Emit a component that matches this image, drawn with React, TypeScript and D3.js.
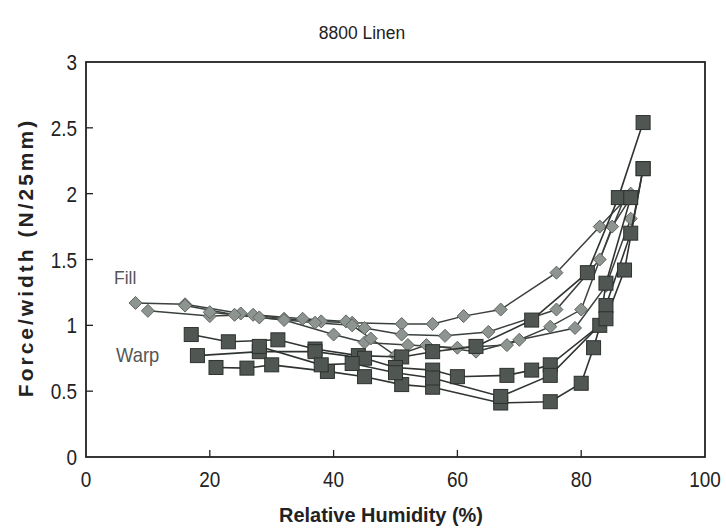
import React from "react";
import * as d3 from "d3";

type Pt = [number, number];

const title = "8800 Linen";
const xTicks = [0, 20, 40, 60, 80, 100];
const yTicks = [0, 0.5, 1, 1.5, 2, 2.5, 3];
const xLabel = "Relative Humidity (%)";
const yLabel = "Force/width (N/25mm)";

const fillSeries: Pt[][] = [
  [[8, 1.17], [16, 1.16], [25, 1.09], [32, 1.05], [38, 1.03], [43, 1.02], [51, 1.01], [56, 1.01], [61, 1.07], [67, 1.12], [76, 1.4], [83, 1.75], [88, 2.0]],
  [[10, 1.11], [20, 1.07], [27, 1.08], [35, 1.05], [42, 1.03], [45, 0.98], [51, 0.93], [58, 0.92], [65, 0.95], [76, 1.12], [83, 1.5], [87, 1.97]],
  [[16, 1.15], [24, 1.08], [32, 1.04], [40, 0.93], [45, 0.87], [52, 0.85], [60, 0.83], [68, 0.85], [75, 0.99], [80, 1.12], [85, 1.75], [88, 1.97]],
  [[20, 1.1], [28, 1.06], [37, 1.02], [43, 1.0], [46, 0.9], [50, 0.77], [55, 0.85], [63, 0.8], [70, 0.89], [79, 0.98], [84, 1.3], [88, 1.81]],
];

const warpSeries: Pt[][] = [
  [[17, 0.93], [23, 0.875], [31, 0.89], [37, 0.82], [44, 0.77], [51, 0.76], [56, 0.8], [63, 0.84], [72, 1.04], [81, 1.4], [86, 1.97], [90, 2.54]],
  [[18, 0.77], [28, 0.8], [37, 0.8], [45, 0.75], [50, 0.68], [56, 0.66], [60, 0.61], [68, 0.62], [72, 0.66], [75, 0.7], [83, 1.0], [84, 1.32], [88, 1.97]],
  [[21, 0.68], [26, 0.675], [30, 0.7], [39, 0.65], [45, 0.61], [51, 0.55], [56, 0.53], [67, 0.41], [75, 0.42], [80, 0.56], [82, 0.83], [84, 1.15], [88, 1.7], [90, 2.19]],
  [[28, 0.84], [38, 0.7], [43, 0.71], [50, 0.64], [56, 0.6], [67, 0.46], [75, 0.62], [84, 1.05], [87, 1.42], [90, 2.19]],
];

const W = 726;
const H = 530;
const M = { left: 86, right: 21, top: 62, bottom: 73 };

export default function App() {
  const x = d3.scaleLinear().domain([0, 100]).range([M.left, W - M.right]);
  const y = d3.scaleLinear().domain([0, 3]).range([H - M.bottom, M.top]);
  const line = d3
    .line<Pt>()
    .x((d) => x(d[0]))
    .y((d) => y(d[1]));
  const font = "'Liberation Sans', Arial, sans-serif";
  const sq = 14;
  const dm = 6.5;
  const sx = 0.86;

  return (
    <svg
      width={W}
      height={H}
      style={{ position: "absolute", left: 0, top: 0, background: "#fff" }}
      fontFamily={font}
    >
      <rect width={W} height={H} fill="#fff" />
      <text
        transform={`translate(362,39) scale(0.92,1)`}
        textAnchor="middle"
        fontSize={19}
        fill="#222"
      >
        {title}
      </text>
      {/* frame */}
      <rect
        x={x(0)}
        y={y(3)}
        width={x(100) - x(0)}
        height={y(0) - y(3)}
        fill="none"
        stroke="#222"
        strokeWidth={1.8}
      />
      {xTicks.slice(1, -1).map((t) => (
        <line key={"xt" + t} x1={x(t)} x2={x(t)} y1={y(0)} y2={y(0) - 7} stroke="#222" strokeWidth={1.3} />
      ))}
      {yTicks.slice(1, -1).map((t) => (
        <line key={"yt" + t} x1={x(0)} x2={x(0) + 7} y1={y(t)} y2={y(t)} stroke="#222" strokeWidth={1.3} />
      ))}
      {xTicks.map((t) => (
        <text
          key={"xl" + t}
          transform={`translate(${x(t)},${y(0) + 30}) scale(${sx},1)`}
          textAnchor="middle"
          fontSize={22}
          fill="#222"
        >
          {t}
        </text>
      ))}
      {yTicks.map((t) => (
        <text
          key={"yl" + t}
          transform={`translate(${x(0) - 9},${y(t) + 8}) scale(${sx},1)`}
          textAnchor="end"
          fontSize={22}
          fill="#222"
        >
          {t}
        </text>
      ))}
      <text
        transform={`translate(381,522) scale(0.95,1)`}
        textAnchor="middle"
        fontSize={21}
        fontWeight="bold"
        fill="#222"
      >
        {xLabel}
      </text>
      <text
        transform={`translate(33,${(y(0) + y(3)) / 2 - 2}) rotate(-90)`}
        textAnchor="middle"
        fontSize={21}
        fontWeight="bold"
        letterSpacing={3}
        fill="#222"
      >
        {yLabel}
      </text>
      <text transform="translate(114,284) scale(0.92,1)" fontSize={19} fill="#555">Fill</text>
      <text transform="translate(116,362) scale(0.92,1)" fontSize={20} fill="#555">Warp</text>

      {fillSeries.map((s, i) => (
        <path key={"fl" + i} d={line(s) || ""} fill="none" stroke="#3b413e" strokeWidth={1.5} />
      ))}
      {fillSeries.map((s, i) =>
        s.map((d, j) => (
          <path
            key={`fd${i}-${j}`}
            d={`M${x(d[0])},${y(d[1]) - dm}L${x(d[0]) + dm},${y(d[1])}L${x(d[0])},${y(d[1]) + dm}L${x(d[0]) - dm},${y(d[1])}Z`}
            fill="#8e9590"
            stroke="#5e6561"
            strokeWidth={1}
          />
        ))
      )}
      {warpSeries.map((s, i) => (
        <path key={"wl" + i} d={line(s) || ""} fill="none" stroke="#2f3431" strokeWidth={1.6} />
      ))}
      {warpSeries.map((s, i) =>
        s.map((d, j) => (
          <rect
            key={`ws${i}-${j}`}
            x={x(d[0]) - sq / 2}
            y={y(d[1]) - sq / 2}
            width={sq}
            height={sq}
            fill="#505753"
            stroke="#2c312e"
            strokeWidth={1}
          />
        ))
      )}
    </svg>
  );
}
